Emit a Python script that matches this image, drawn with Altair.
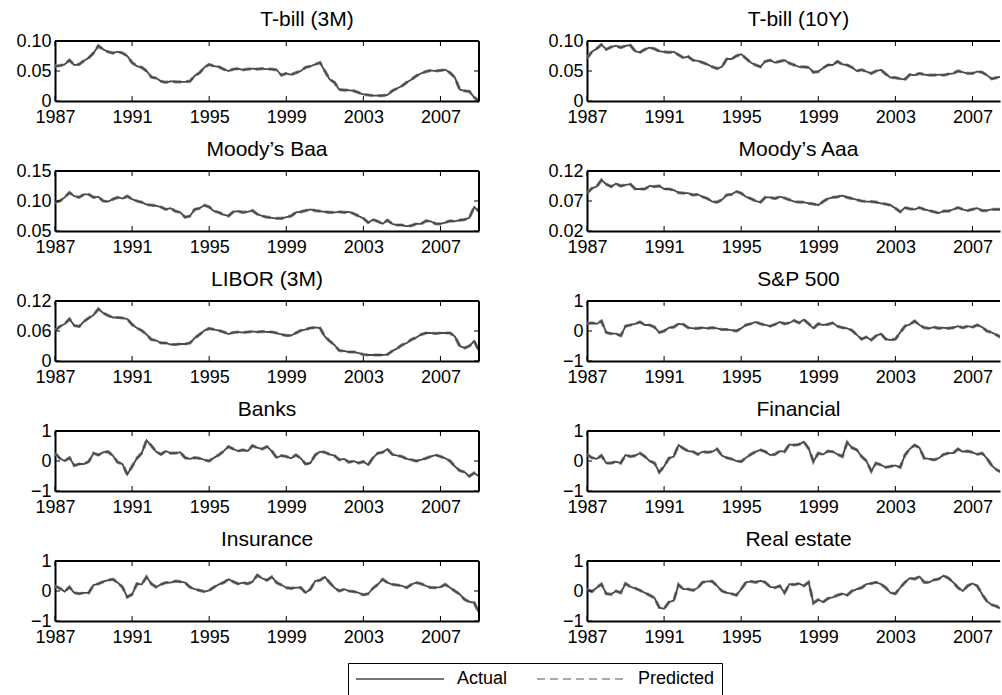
import altair as alt
import pandas as pd

START = 1987.0
STEP = 0.25  # quarterly readings

titles = ["T-bill (3M)", "T-bill (10Y)", "Moody\u2019s Baa", "Moody\u2019s Aaa", "LIBOR (3M)",
          "S&P 500", "Banks", "Financial", "Insurance", "Real estate"]

tbill3m = [0.058, 0.059, 0.061, 0.068, 0.060, 0.061, 0.067, 0.072, 0.080, 0.092, 0.086, 0.082,
           0.080, 0.082, 0.080, 0.075, 0.064, 0.058, 0.056, 0.050, 0.040, 0.038, 0.033, 0.031,
           0.033, 0.032, 0.032, 0.032, 0.033, 0.042, 0.047, 0.056, 0.061, 0.058, 0.057, 0.053,
           0.050, 0.053, 0.054, 0.052, 0.053, 0.054, 0.053, 0.054, 0.053, 0.053, 0.052, 0.043,
           0.046, 0.044, 0.047, 0.050, 0.056, 0.058, 0.061, 0.064, 0.050, 0.036, 0.031, 0.019,
           0.018, 0.018, 0.017, 0.014, 0.011, 0.010, 0.009, 0.009, 0.009, 0.010, 0.017, 0.021,
           0.025, 0.031, 0.036, 0.042, 0.046, 0.049, 0.051, 0.050, 0.051, 0.052, 0.047, 0.039,
           0.019, 0.017, 0.016, 0.006, 0.000]
tbill10y = [0.071, 0.082, 0.087, 0.094, 0.086, 0.090, 0.092, 0.089, 0.092, 0.093, 0.083, 0.081,
            0.086, 0.089, 0.087, 0.083, 0.082, 0.081, 0.082, 0.077, 0.072, 0.074, 0.068, 0.067,
            0.064, 0.061, 0.057, 0.054, 0.057, 0.070, 0.070, 0.075, 0.078, 0.071, 0.064, 0.060,
            0.057, 0.066, 0.068, 0.064, 0.066, 0.068, 0.063, 0.060, 0.057, 0.057, 0.056, 0.048,
            0.049, 0.055, 0.060, 0.060, 0.066, 0.061, 0.060, 0.056, 0.050, 0.052, 0.049, 0.046,
            0.050, 0.052, 0.045, 0.039, 0.039, 0.037, 0.036, 0.044, 0.043, 0.046, 0.044, 0.043,
            0.043, 0.044, 0.043, 0.045, 0.046, 0.050, 0.048, 0.046, 0.046, 0.049, 0.048, 0.043,
            0.037, 0.039, 0.041, 0.038, 0.030]
baa = [0.098, 0.100, 0.106, 0.114, 0.108, 0.106, 0.111, 0.111, 0.106, 0.107, 0.100, 0.099,
       0.103, 0.106, 0.104, 0.108, 0.103, 0.100, 0.098, 0.094, 0.093, 0.092, 0.090, 0.086,
       0.088, 0.083, 0.081, 0.073, 0.075, 0.086, 0.088, 0.093, 0.090, 0.083, 0.081, 0.077,
       0.075, 0.082, 0.083, 0.081, 0.082, 0.084, 0.078, 0.075, 0.073, 0.072, 0.071, 0.071,
       0.073, 0.075, 0.081, 0.082, 0.084, 0.086, 0.084, 0.083, 0.082, 0.081, 0.081, 0.082,
       0.081, 0.082, 0.079, 0.075, 0.071, 0.064, 0.069, 0.066, 0.062, 0.068, 0.062, 0.060,
       0.060, 0.058, 0.059, 0.062, 0.062, 0.067, 0.066, 0.062, 0.062, 0.064, 0.067, 0.066,
       0.068, 0.069, 0.072, 0.090, 0.083]
aaa = [0.083, 0.091, 0.094, 0.105, 0.098, 0.094, 0.099, 0.095, 0.097, 0.098, 0.090, 0.090,
       0.090, 0.095, 0.094, 0.095, 0.090, 0.090, 0.088, 0.084, 0.083, 0.083, 0.080, 0.081,
       0.077, 0.074, 0.069, 0.068, 0.072, 0.080, 0.081, 0.086, 0.083, 0.077, 0.074, 0.070,
       0.068, 0.076, 0.076, 0.074, 0.077, 0.075, 0.072, 0.069, 0.068, 0.068, 0.066, 0.065,
       0.063, 0.069, 0.074, 0.076, 0.077, 0.079, 0.076, 0.074, 0.072, 0.070, 0.069, 0.069,
       0.068, 0.066, 0.065, 0.063, 0.058, 0.052, 0.059, 0.057, 0.056, 0.059, 0.056, 0.054,
       0.052, 0.050, 0.053, 0.053, 0.056, 0.059, 0.056, 0.054, 0.056, 0.058, 0.054, 0.054,
       0.056, 0.056, 0.056, 0.055, 0.055]
libor = [0.061, 0.069, 0.074, 0.084, 0.071, 0.069, 0.079, 0.086, 0.092, 0.104, 0.096, 0.091,
         0.087, 0.087, 0.086, 0.084, 0.073, 0.066, 0.061, 0.053, 0.043, 0.041, 0.036, 0.036,
         0.033, 0.033, 0.034, 0.034, 0.036, 0.046, 0.053, 0.061, 0.065, 0.063, 0.061, 0.058,
         0.054, 0.057, 0.058, 0.057, 0.058, 0.059, 0.058, 0.059, 0.058, 0.058, 0.056, 0.053,
         0.051, 0.051, 0.056, 0.061, 0.063, 0.066, 0.067, 0.066, 0.049, 0.040, 0.032, 0.021,
         0.020, 0.018, 0.018, 0.016, 0.013, 0.012, 0.012, 0.012, 0.012, 0.013, 0.020, 0.025,
         0.032, 0.036, 0.043, 0.047, 0.053, 0.056, 0.056, 0.055, 0.056, 0.056, 0.056, 0.049,
         0.030, 0.026, 0.030, 0.040, 0.020]
sp500 = [0.24, 0.27, 0.24, 0.33, -0.05, -0.09, -0.09, -0.16, 0.16, 0.20, 0.24, 0.30,
         0.20, 0.20, 0.13, -0.05, 0.00, 0.11, 0.13, 0.24, 0.22, 0.11, 0.09, 0.09,
         0.11, 0.09, 0.11, 0.09, 0.05, 0.05, 0.03, 0.00, 0.09, 0.20, 0.24, 0.30,
         0.24, 0.20, 0.16, 0.22, 0.30, 0.24, 0.27, 0.35, 0.27, 0.38, 0.24, 0.09,
         0.24, 0.20, 0.22, 0.27, 0.16, 0.11, 0.09, 0.02, -0.13, -0.27, -0.20, -0.30,
         -0.16, -0.09, -0.27, -0.30, -0.27, -0.05, 0.16, 0.22, 0.33, 0.20, 0.11, 0.09,
         0.13, 0.09, 0.11, 0.09, 0.11, 0.16, 0.11, 0.16, 0.13, 0.20, 0.13, 0.00,
         -0.05, -0.13, -0.22, -0.30, -0.45]
banks = [0.26, 0.09, 0.00, 0.11, -0.15, -0.10, -0.10, -0.02, 0.26, 0.20, 0.29, 0.31,
         0.18, -0.04, -0.10, -0.45, -0.18, 0.09, 0.26, 0.69, 0.51, 0.31, 0.22, 0.33,
         0.26, 0.26, 0.29, 0.11, 0.07, 0.11, 0.09, 0.04, 0.00, 0.11, 0.20, 0.33,
         0.48, 0.40, 0.33, 0.37, 0.33, 0.51, 0.44, 0.40, 0.48, 0.33, 0.11, 0.18,
         0.15, 0.09, 0.20, 0.09, -0.10, -0.07, 0.20, 0.31, 0.29, 0.22, 0.18, 0.04,
         0.07, -0.04, 0.00, -0.07, -0.02, -0.13, 0.11, 0.26, 0.29, 0.40, 0.22, 0.18,
         0.15, 0.07, 0.04, 0.00, 0.04, 0.09, 0.15, 0.20, 0.15, 0.09, 0.00, -0.18,
         -0.32, -0.37, -0.51, -0.40, -0.51]
financial = [0.22, 0.11, 0.07, 0.18, -0.07, -0.07, -0.02, -0.07, 0.20, 0.15, 0.18, 0.26,
             0.15, 0.00, -0.07, -0.37, -0.18, 0.09, 0.15, 0.53, 0.42, 0.33, 0.31, 0.22,
             0.31, 0.29, 0.31, 0.40, 0.18, 0.11, 0.07, 0.00, -0.02, 0.11, 0.22, 0.31,
             0.37, 0.31, 0.20, 0.22, 0.33, 0.31, 0.55, 0.53, 0.55, 0.64, 0.42, -0.02,
             0.26, 0.22, 0.33, 0.31, 0.22, 0.15, 0.62, 0.44, 0.37, 0.15, 0.00, -0.34,
             -0.07, -0.13, -0.21, -0.18, -0.15, -0.21, 0.20, 0.40, 0.53, 0.44, 0.09, 0.07,
             0.04, 0.09, 0.22, 0.26, 0.26, 0.40, 0.31, 0.33, 0.29, 0.22, 0.26, 0.09,
             -0.15, -0.29, -0.37, -0.45, -0.60]
insurance = [0.17, 0.09, -0.02, 0.13, -0.06, -0.09, -0.06, -0.06, 0.20, 0.24, 0.31, 0.36,
             0.39, 0.28, 0.13, -0.20, -0.11, 0.24, 0.22, 0.47, 0.24, 0.13, 0.22, 0.28,
             0.28, 0.33, 0.31, 0.28, 0.13, 0.06, 0.02, -0.02, 0.02, 0.13, 0.22, 0.28,
             0.39, 0.31, 0.24, 0.28, 0.24, 0.31, 0.53, 0.42, 0.36, 0.47, 0.28, 0.20,
             0.11, 0.09, 0.11, 0.11, -0.06, 0.06, 0.33, 0.36, 0.47, 0.28, 0.11, 0.00,
             0.06, 0.00, -0.02, -0.06, -0.13, -0.09, 0.09, 0.22, 0.39, 0.28, 0.22, 0.20,
             0.17, 0.11, 0.22, 0.28, 0.24, 0.17, 0.11, 0.11, 0.13, 0.22, 0.11, 0.00,
             -0.11, -0.28, -0.36, -0.39, -0.72]
realestate = [0.06, -0.02, 0.11, 0.23, -0.09, -0.11, 0.00, -0.06, 0.25, 0.14, 0.09, 0.02,
              -0.06, -0.14, -0.23, -0.55, -0.59, -0.37, -0.32, 0.21, 0.06, 0.06, 0.02, 0.11,
              0.29, 0.32, 0.32, 0.17, 0.00, -0.06, -0.09, -0.14, 0.06, 0.29, 0.32, 0.29,
              0.34, 0.29, 0.14, 0.11, 0.17, -0.06, 0.23, 0.21, 0.25, 0.17, 0.29, -0.40,
              -0.29, -0.37, -0.25, -0.21, -0.14, -0.09, -0.14, 0.00, 0.06, 0.11, 0.23, 0.25,
              0.29, 0.23, 0.11, -0.06, -0.09, 0.11, 0.29, 0.43, 0.40, 0.48, 0.29, 0.29,
              0.37, 0.40, 0.51, 0.43, 0.29, 0.11, 0.00, 0.17, 0.25, 0.17, -0.11, -0.34,
              -0.46, -0.51, -0.60, -0.65, -0.70]

series_values = [tbill3m, tbill10y, baa, aaa, libor, sp500, banks, financial, insurance, realestate]
y_domains = [[0, 0.10], [0, 0.10], [0.05, 0.15], [0.02, 0.12], [0, 0.12],
             [-1, 1], [-1, 1], [-1, 1], [-1, 1], [-1, 1]]
y_ticks = [[0, 0.05, 0.10], [0, 0.05, 0.10], [0.05, 0.10, 0.15], [0.02, 0.07, 0.12], [0, 0.06, 0.12],
           [-1, 0, 1], [-1, 0, 1], [-1, 0, 1], [-1, 0, 1], [-1, 0, 1]]
x_ticks = [1987, 1991, 1995, 1999, 2003, 2007]
title_dx = [40, 5, 0, 5, 0, 5, 0, 5, 0, 5]
series_names = ["Actual", "Predicted"]

FONT = "Liberation Sans"
H = 60
W_LEFT = 424
W_RIGHT = 413
PX_PER_YEAR = W_LEFT / 22.0

legend = alt.Legend(orient="none", legendX=293, legendY=622, direction="horizontal", title=None,
                    symbolType="stroke", symbolSize=7744, symbolStrokeWidth=1.5, clipHeight=18,
                    labelFontSize=18, labelFont=FONT, labelColor="black", labelOffset=12,
                    columnPadding=28, padding=7, strokeColor="black", fillColor="white")


def panel(i):
    left = (i % 2 == 0)
    W = W_LEFT if left else W_RIGHT
    xmax = 2009.0 if left else START + W / PX_PER_YEAR
    vals = series_values[i]
    years = [START + k * STEP for k in range(len(vals))]
    base = pd.DataFrame({"year": years, "value": vals})
    df_act = base.assign(series="Actual")
    df_pred = base.assign(series="Predicted")

    xs = alt.Scale(domain=[START, xmax], nice=False, zero=False)
    ys = alt.Scale(domain=y_domains[i], nice=False, zero=False)
    if y_domains[i][0] < 0:
        lab = "format(datum.value, '.0f')"
    else:
        lab = "datum.value == 0 ? '0' : format(datum.value, '.2f')"
    xaxis = alt.Axis(values=x_ticks, format="d", title=None, ticks=False, grid=False,
                     labelFontSize=18, labelPadding=7, labelFlush=False,
                     minExtent=22, maxExtent=22)
    yaxis = alt.Axis(values=y_ticks[i], labelExpr=lab, title=None, ticks=False, grid=False,
                     labelFontSize=18, labelPadding=4, minExtent=50, maxExtent=50)
    cscale = alt.Scale(domain=series_names, range=["#484848", "#8e8e8e"])
    dscale = alt.Scale(domain=series_names, range=[[1, 0], [8, 5]])

    X = alt.X("year:Q", scale=xs, axis=xaxis)
    Y = alt.Y("value:Q", scale=ys, axis=yaxis)
    pred = alt.Chart(df_pred).mark_line(strokeWidth=3.2, clip=True).encode(
        x=X, y=Y, color=alt.Color("series:N", scale=cscale, legend=legend),
        strokeDash=alt.StrokeDash("series:N", scale=dscale, legend=legend))
    act = alt.Chart(df_act).mark_line(strokeWidth=1.8, clip=True).encode(
        x=X, y=Y, color=alt.Color("series:N", scale=cscale, legend=legend),
        strokeDash=alt.StrokeDash("series:N", scale=dscale, legend=legend))

    xt = pd.DataFrame({"year": x_ticks})
    yt = pd.DataFrame({"value": y_ticks[i]})
    one = pd.DataFrame({"k": [0]})
    top_t = alt.Chart(xt).mark_rule(color="black", strokeWidth=1).encode(x=X, y=alt.value(0), y2=alt.value(5))
    bot_t = alt.Chart(xt).mark_rule(color="black", strokeWidth=1).encode(x=X, y=alt.value(H - 5), y2=alt.value(H))
    left_t = alt.Chart(yt).mark_rule(color="black", strokeWidth=1).encode(y=Y, x=alt.value(0), x2=alt.value(5))
    top_b = alt.Chart(one).mark_rule(color="black", strokeWidth=2).encode(x=alt.value(0), x2=alt.value(W), y=alt.value(0))
    layers = [pred, act, top_t, bot_t, left_t, top_b]
    if left:
        right_t = alt.Chart(yt).mark_rule(color="black", strokeWidth=1).encode(y=Y, x=alt.value(W - 5), x2=alt.value(W))
        right_b = alt.Chart(one).mark_rule(color="black", strokeWidth=2).encode(x=alt.value(W), y=alt.value(0), y2=alt.value(H))
        layers += [right_t, right_b]

    return alt.layer(*layers).properties(
        width=W, height=H,
        title=alt.TitleParams(text=titles[i], fontSize=21, font=FONT, fontWeight="normal",
                              color="black", anchor="middle", offset=2, dx=title_dx[i]))


panels = [panel(i) for i in range(10)]

chart = alt.concat(*panels, columns=2, spacing={"row": 13, "column": 57}).properties(
    padding={"left": 5, "top": 9, "right": 0, "bottom": 0}
).configure_view(strokeWidth=0).configure_axis(
    domainColor="black", domainWidth=2, labelColor="black", labelFont=FONT
)

chart.save("out.html", embed_options={"renderer": "svg", "actions": False})
